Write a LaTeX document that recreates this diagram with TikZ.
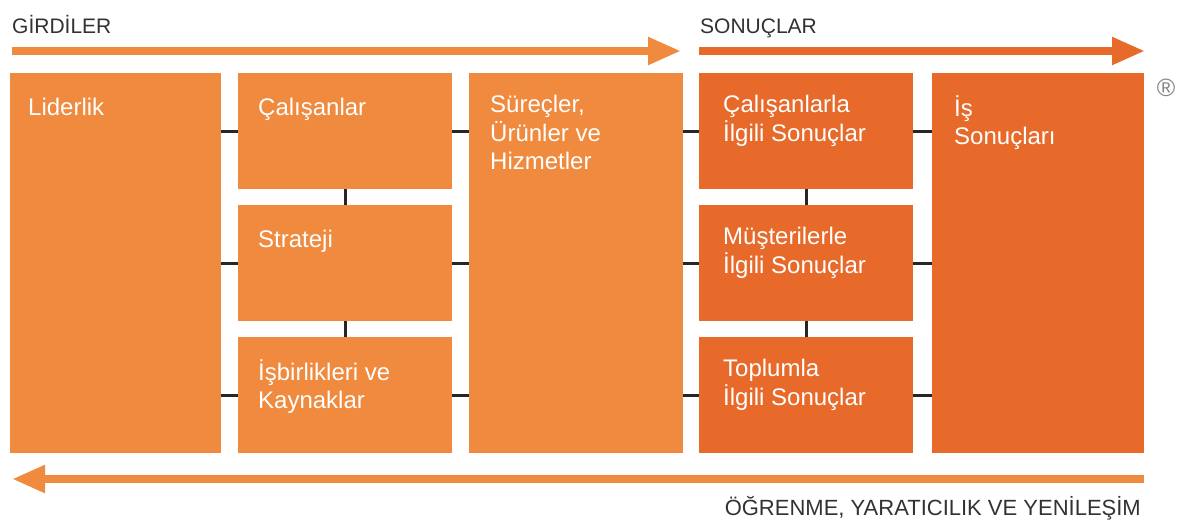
\documentclass[tikz,border=0pt]{standalone}
\usepackage{fontspec}
\setmainfont{Liberation Sans}
\usetikzlibrary{arrows.meta,positioning}
\definecolor{inOrange}{RGB}{239,138,62}
\definecolor{outOrange}{RGB}{231,106,42}
\definecolor{headGray}{RGB}{50,50,50}
\tikzset{
  inBox/.style={rectangle, fill=inOrange, anchor=north west, inner sep=0pt},
  outBox/.style={rectangle, fill=outOrange, anchor=north west, inner sep=0pt},
  boxText/.style={text=white, anchor=north west, inner sep=0pt, align=left,
                  font=\fontsize{24pt}{28.5pt}\selectfont, execute at begin node=\strut},
  headText/.style={text=headGray, font=\fontsize{21pt}{25pt}\selectfont, inner sep=0pt},
  bigArrow/.style={-{Triangle[length=33pt,width=26pt]}, line width=8pt},
  tick/.style={draw=black!85, line width=3pt}
}

\begin{document}
\begin{tikzpicture}[x=1pt,y=-1pt]
\useasboundingbox (0,0) rectangle (1183,520);

% Headers
\node[headText, anchor=base west] (girdi) at (12,33) {GİRDİLER};
\node[headText, anchor=base west] (sonuc) at (700,33) {SONUÇLAR};
\node[text=headGray!60, font=\fontsize{25pt}{25pt}\selectfont, inner sep=0pt] (reg) at (1166,88) {\textregistered};

% Top arrows
\coordinate (inA) at (12,51);
\coordinate (inB) at (681,51);
\coordinate (outA) at (699,51);
\coordinate (outB) at (1145,51);
\draw[bigArrow, inOrange] (inA) -- (inB);
\draw[bigArrow, outOrange] (outA) -- (outB);

% Input boxes
\node[inBox, minimum width=211pt, minimum height=380pt] (lider) at (10,73) {};
\node[inBox, minimum width=214pt, minimum height=116pt] (calis) at (238,73) {};
\node[inBox, minimum width=214pt, minimum height=116pt] (strat) at (238,205) {};
\node[inBox, minimum width=214pt, minimum height=116pt] (isbir) at (238,337) {};
\node[inBox, minimum width=214pt, minimum height=380pt] (surec) at (469,73) {};

% Result boxes
\node[outBox, minimum width=214pt, minimum height=116pt] (calSon) at (699,73) {};
\node[outBox, minimum width=214pt, minimum height=116pt] (musSon) at (699,205) {};
\node[outBox, minimum width=214pt, minimum height=116pt] (topSon) at (699,337) {};
\node[outBox, minimum width=212pt, minimum height=380pt] (isSon) at (932,73) {};

% Box texts
\node[boxText] (liderT) at ([shift={(18,22)}]lider.north west) {Liderlik};
\node[boxText] (calisT) at ([shift={(20,22)}]calis.north west) {Çalışanlar};
\node[boxText] (stratT) at ([shift={(20,22)}]strat.north west) {Strateji};
\node[boxText] (isbirT) at ([shift={(20,22)}]isbir.north west) {İşbirlikleri ve\\Kaynaklar};
\node[boxText] (surecT) at ([shift={(21,22)}]surec.north west) {Süreçler,\\Ürünler ve\\Hizmetler};
\node[boxText] (calSonT) at ([shift={(24,22)}]calSon.north west) {Çalışanlarla\\İlgili Sonuçlar};
\node[boxText] (musSonT) at ([shift={(24,22)}]musSon.north west) {Müşterilerle\\İlgili Sonuçlar};
\node[boxText] (topSonT) at ([shift={(24,22)}]topSon.north west) {Toplumla\\İlgili Sonuçlar};
\node[boxText] (isSonT) at ([shift={(22,22)}]isSon.north west) {İş\\Sonuçları};

% Ticks between columns
\draw[tick] (lider.east |- calis.west) -- (calis.west);
\draw[tick] (lider.east |- strat.west) -- (strat.west);
\draw[tick] (lider.east |- isbir.west) -- (isbir.west);
\draw[tick] (calis.east) -- (surec.west |- calis.east);
\draw[tick] (strat.east) -- (surec.west |- strat.east);
\draw[tick] (isbir.east) -- (surec.west |- isbir.east);
\draw[tick] (surec.east |- calSon.west) -- (calSon.west);
\draw[tick] (surec.east |- musSon.west) -- (musSon.west);
\draw[tick] (surec.east |- topSon.west) -- (topSon.west);
\draw[tick] (calSon.east) -- (isSon.west |- calSon.east);
\draw[tick] (musSon.east) -- (isSon.west |- musSon.east);
\draw[tick] (topSon.east) -- (isSon.west |- topSon.east);

% Ticks inside the stacks
\draw[tick] (calis.south) -- (strat.north);
\draw[tick] (strat.south) -- (isbir.north);
\draw[tick] (calSon.south) -- (musSon.north);
\draw[tick] (musSon.south) -- (topSon.north);

% Bottom arrow
\coordinate (backA) at (1144,479);
\coordinate (backB) at (12,479);
\draw[bigArrow, inOrange] (backA) -- (backB);
\node[headText, anchor=base east, font=\fontsize{22pt}{26pt}\selectfont] (learn) at (1141,515) {ÖĞRENME, YARATICILIK VE YENİLEŞİM};

\end{tikzpicture}
\end{document}
